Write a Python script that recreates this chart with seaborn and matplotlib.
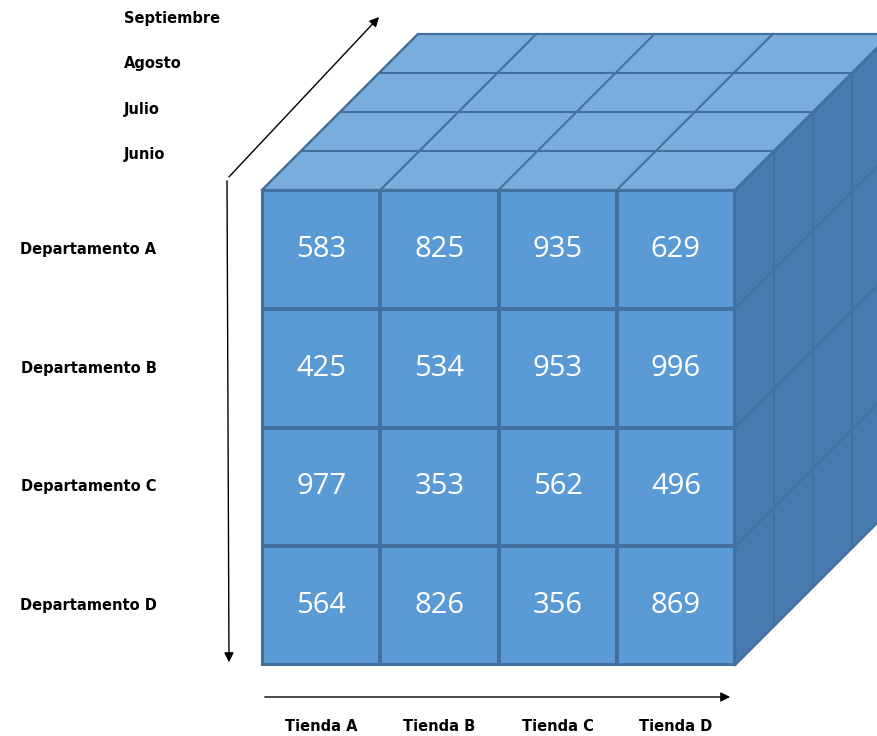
import numpy as np
import pandas as pd
import matplotlib.pyplot as plt
from matplotlib.colors import ListedColormap
from matplotlib.patches import Polygon
import seaborn as sns

# Data
departamentos = ["Departamento A", "Departamento B", "Departamento C", "Departamento D"]
tiendas = ["Tienda A", "Tienda B", "Tienda C", "Tienda D"]
meses = ["Junio", "Julio", "Agosto", "Septiembre"]
ventas = [
    [583, 825, 935, 629],
    [425, 534, 953, 996],
    [977, 353, 562, 496],
    [564, 826, 356, 869],
]

df = pd.DataFrame(ventas, index=departamentos, columns=tiendas)

# colours
front_col = "#5B9BD5"
top_col = "#7AADDC"
side_col = "#467BAD"
edge_col = "#41719C"

W, H = 877, 736
fig = plt.figure(figsize=(W / 100, H / 100), dpi=100)

# background axes in pixel coordinates for the depth faces and arrows
bg = fig.add_axes([0, 0, 1, 1])
bg.set_xlim(0, W)
bg.set_ylim(H, 0)
bg.axis("off")

# front face box (pixels)
x0, x1 = 262, 735
y0, y1 = 190, 665
nrow, ncol, ndep = len(departamentos), len(tiendas), len(meses)
cw = (x1 - x0) / ncol
ch = (y1 - y0) / nrow
d = 39  # oblique offset per month layer

# side face
side = Polygon([(x1, y0), (x1 + d * ndep, y0 - d * ndep), (x1 + d * ndep, y1 - d * ndep), (x1, y1)],
               closed=True, facecolor=side_col, edgecolor=edge_col, lw=1.5)
bg.add_patch(side)
for k in range(ndep + 1):
    bg.plot([x1 + d * k, x1 + d * k], [y0 - d * k, y1 - d * k], color=edge_col, lw=1.5)
for i in range(nrow + 1):
    bg.plot([x1, x1 + d * ndep], [y0 + ch * i, y0 + ch * i - d * ndep], color=edge_col, lw=1.5)

# top face
top = Polygon([(x0, y0), (x1, y0), (x1 + d * ndep, y0 - d * ndep), (x0 + d * ndep, y0 - d * ndep)],
              closed=True, facecolor=top_col, edgecolor=edge_col, lw=1.5)
bg.add_patch(top)
for k in range(ndep + 1):
    bg.plot([x0 + d * k, x1 + d * k], [y0 - d * k, y0 - d * k], color=edge_col, lw=1.5)
for j in range(ncol + 1):
    bg.plot([x0 + cw * j, x0 + cw * j + d * ndep], [y0, y0 - d * ndep], color=edge_col, lw=1.5)

# month labels
for k, m in enumerate(meses):
    bg.text(124, 155 - 45.6 * k, m, ha="left", va="center", fontsize=10.5,
            fontweight="bold", family="DejaVu Sans")

# arrows
arrow = dict(arrowstyle="-|>", color="black", lw=1, mutation_scale=14)
bg.annotate("", xy=(229, 665), xytext=(227, 178), arrowprops=arrow)
bg.annotate("", xy=(381, 15), xytext=(227, 179), arrowprops=arrow)
bg.annotate("", xy=(733, 697), xytext=(262, 697), arrowprops=arrow)

# front face as a heatmap
hm = fig.add_axes([x0 / W, 1 - y1 / H, (x1 - x0) / W, (y1 - y0) / H])
sns.heatmap(df, ax=hm, cmap=ListedColormap([front_col]), cbar=False,
            annot=True, fmt="d", linewidths=1.5, linecolor=edge_col,
            annot_kws=dict(color="white", fontsize=21, family="Open Sans"))
for s in hm.spines.values():
    s.set_visible(True)
    s.set_color(edge_col)
    s.set_linewidth(1.5)
hm.tick_params(length=0)
hm.tick_params(axis="y", pad=76)
hm.tick_params(axis="x", pad=39)
for t in hm.get_yticklabels():
    t.set_rotation(0)
    t.set_fontsize(10.5)
    t.set_fontweight("bold")
for t in hm.get_xticklabels():
    t.set_rotation(0)
    t.set_fontsize(10.5)
    t.set_fontweight("bold")
hm.set_xlabel("")
hm.set_ylabel("")

fig.savefig("out.png", dpi=100)
